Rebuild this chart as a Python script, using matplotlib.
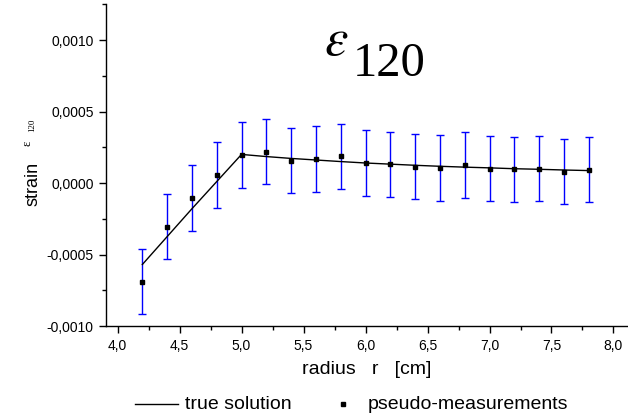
import matplotlib
matplotlib.use("Agg")
import matplotlib.pyplot as plt
from matplotlib.ticker import MultipleLocator, FuncFormatter
from matplotlib.lines import Line2D

# Radial positions of the measurements [cm]
radius = [4.2, 4.4, 4.6, 4.8, 5.0, 5.2, 5.4, 5.6, 5.8, 6.0,
          6.2, 6.4, 6.6, 6.8, 7.0, 7.2, 7.4, 7.6, 7.8]

# Exact strain profile
true_strain = [-0.00057, -0.000375, -0.00018, 0.000010, 0.000200, 0.000185,
               0.000172, 0.000161, 0.000150, 0.000140, 0.000132, 0.000124,
               0.000117, 0.000111, 0.000106, 0.000100, 0.000096, 0.000091,
               0.000087]

# Noisy pseudo-measurements and their error bars
measured = [-0.00069, -0.000306, -0.000105, 0.000056, 0.000196, 0.000219,
            0.000156, 0.000168, 0.000186, 0.000140, 0.000131, 0.000114,
            0.000105, 0.000126, 0.000100, 0.000096, 0.000100, 0.000079,
            0.000093]
errors = [0.000228] * 19

xticks = [4.0, 4.5, 5.0, 5.5, 6.0, 6.5, 7.0, 7.5, 8.0]
yticks = [-0.0010, -0.0005, 0.0, 0.0005, 0.0010]

plt.rcParams["font.family"] = ["Liberation Sans", "DejaVu Sans"]
plt.rcParams["mathtext.fontset"] = "stix"

W, H = 628, 419
fig = plt.figure(figsize=(W / 100, H / 100), dpi=100)
ax = fig.add_axes([106 / W, 1 - 326 / H, 1 - 106 / W, (326 - 4) / H])


def fx(px):
    return px / W


def fy(py):
    return 1 - py / H


ax.plot(radius, true_strain, color="black", lw=1.0, zorder=2)
ax.errorbar(radius, measured, yerr=errors, fmt="none", ecolor="#0000ff",
            elinewidth=1.0, capsize=2.6, capthick=1.0, zorder=1)
ax.plot(radius, measured, ls="none", marker="s", ms=3.3, color="black", zorder=3)

ax.set_xlim(3.907, 8.117)
ax.set_ylim(-0.0010, 0.001252)

ax.set_xticks(xticks)
ax.set_yticks(yticks)
ax.xaxis.set_minor_locator(MultipleLocator(0.25))
ax.yaxis.set_minor_locator(MultipleLocator(0.00025))
ax.xaxis.set_major_formatter(FuncFormatter(lambda v, p: f"{v:.1f}".replace(".", ",")))
ax.yaxis.set_major_formatter(FuncFormatter(lambda v, p: f"{v:.4f}".replace(".", ",")))
ax.tick_params(which="major", direction="out", length=5, width=1, labelsize=10, pad=4)
ax.tick_params(which="minor", direction="out", length=3, width=1)

for side in ("top", "right"):
    ax.spines[side].set_visible(False)
for side in ("left", "bottom"):
    ax.spines[side].set_linewidth(1.0)

ax.set_xlabel("radius   r   [cm]", fontsize=14, labelpad=6)

# Y axis label: "strain" followed by a small epsilon with subscript
fig.text(fx(33), fy(184), "strain", fontsize=13, rotation=90,
         ha="center", va="center")
fig.text(fx(27.5), fy(143), "\u03b5", fontsize=9, family="Liberation Serif",
         rotation=90, ha="center", va="center")
fig.text(fx(32.5), fy(125), "120", fontsize=6.5, family="Liberation Serif",
         rotation=90, ha="center", va="center")

# Large component label
fig.text(fx(324), fy(55), r"$\varepsilon$", fontsize=38, ha="left", va="baseline")
fig.text(fx(353), fy(76), "120", fontsize=35, family="Liberation Serif",
         ha="left", va="baseline")

# Legend below the axes
fig.add_artist(Line2D([fx(135), fx(178)], [fy(403.5), fy(403.5)],
                      color="black", lw=1.0))
fig.text(fx(185), fy(404), "true solution", fontsize=14, ha="left", va="center")
fig.add_artist(Line2D([fx(343)], [fy(404)], ls="none", marker="s", ms=3.3,
                      color="black"))
fig.text(fx(368), fy(404), "pseudo-measurements", fontsize=14, ha="left",
         va="center")

fig.savefig("out.png", dpi=100)
